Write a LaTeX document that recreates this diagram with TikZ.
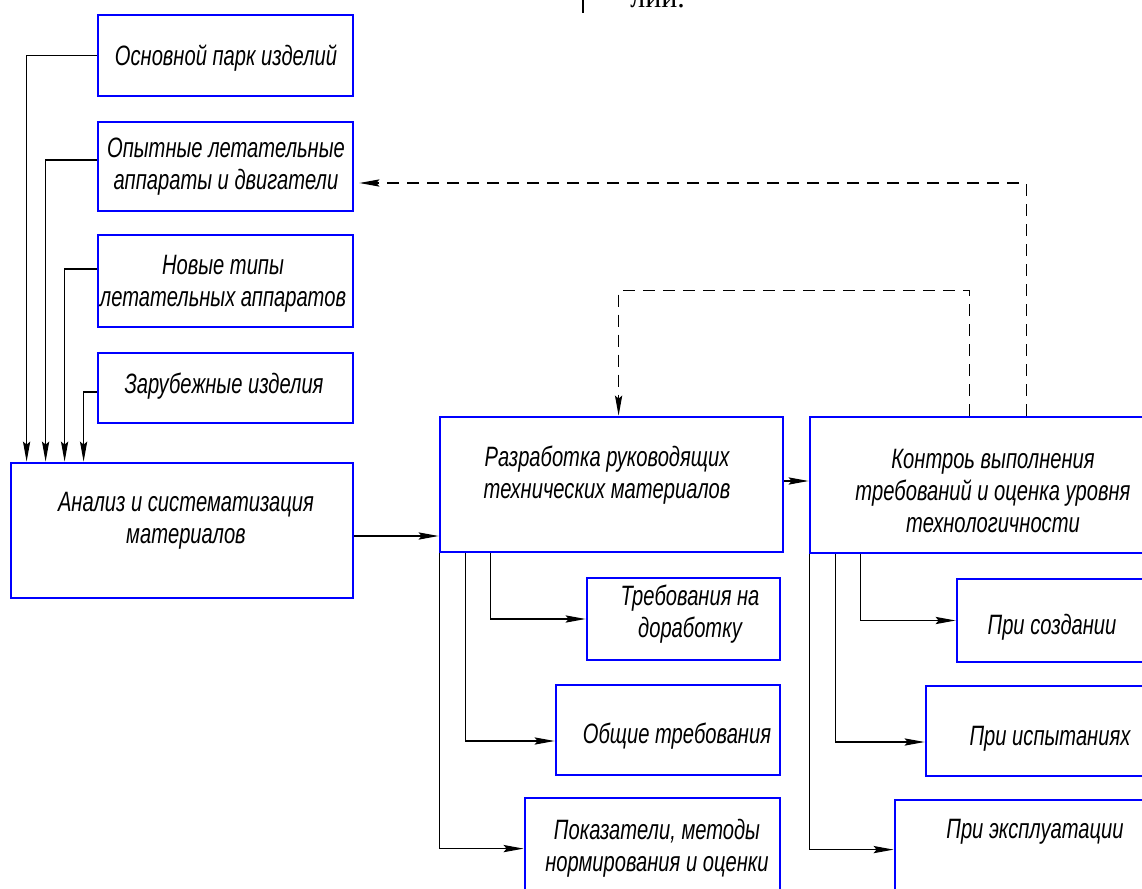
\documentclass[tikz,border=0pt]{standalone}
\usepackage{fontspec}
\newfontfamily\gost[FakeStretch=0.72]{Liberation Sans}
\newfontfamily\serifrag{Liberation Serif}
\usetikzlibrary{arrows.meta,fit}
\definecolor{boxblue}{RGB}{0,0,255}
\tikzset{
  box/.style={draw=boxblue, line width=1.4pt, inner sep=0pt, rectangle},
  txt/.style={font=\gost\itshape\fontsize{14}{16}\selectfont, align=center, inner sep=0pt, text=black},
  arr/.style={draw=black, line width=0.55pt, -{Stealth[length=10pt,width=3.6pt,inset=1.5pt]}},
  dsh/.style={draw=black!75, line width=0.55pt, dash pattern=on 6pt off 4pt},
}
\begin{document}
\begin{tikzpicture}[x=0.5pt,y=-0.5pt]
\useasboundingbox (0,0) rectangle (1142,889);
\clip (0,0) rectangle (1142,889);

% fragment of page text at the top (cut off, as in the reference)
\draw[line width=1pt] (583,0) -- (583,13);
\node[anchor=base west, inner sep=0pt, font=\serifrag\fontsize{15}{15}\selectfont] (frag) at (630,7) {лии.};

% boxes
\node[box, fit={(98,15) (353,96)}] (osn) {};
\node[box, fit={(98,122) (353,211)}] (opyt) {};
\node[box, fit={(98,235) (353,327)}] (novye) {};
\node[box, fit={(98,353) (353,423)}] (zarub) {};
\node[box, fit={(11,463) (353,598)}] (an) {};
\node[box, fit={(440,417) (783,552)}] (razr) {};
\node[box, fit={(810,417) (1160,553)}] (kontr) {};
\node[box, fit={(587,578) (780,660)}] (treb) {};
\node[box, fit={(556,685) (780,775)}] (obsh) {};
\node[box, fit={(525,798) (780,910)}] (pokaz) {};
\node[box, fit={(957,579) (1160,662)}] (sozd) {};
\node[box, fit={(926,686) (1160,776)}] (ispyt) {};
\node[box, fit={(895,800) (1160,910)}] (ekspl) {};

% texts
\node[txt] (t-osn) at (226,58) {Основной парк изделий};
\node[txt] (t-opyt) at (226,166.5) {Опытные летательные\\аппараты и двигатели};
\node[txt] (t-novye) at (223,284) {Новые типы\\летательных аппаратов};
\node[txt] (t-zarub) at (224,386) {Зарубежные изделия};
\node[txt] (t-an) at (186,521) {Анализ и систематизация\\материалов};
\node[txt] (t-razr) at (607,475.5) {Разработка руководящих\\технических материалов};
\node[txt] (t-kontr) at (993,490.5) {Контроь выполнения\\требований и оценка уровня\\технологичности};
\node[txt] (t-treb) at (690,614.5) {Требования на\\доработку};
\node[txt] (t-obsh) at (677,736) {Общие требования};
\node[txt] (t-pokaz) at (657,848) {Показатели, методы\\нормирования и оценки};
\node[txt] (t-sozd) at (1052,627) {При создании};
\node[txt] (t-ispyt) at (1050,739) {При испытаниях};
\node[txt] (t-ekspl) at (1035,832) {При эксплуатации};

% feeders into the analysis box
\draw[arr] (osn.west) -| ([xshift=8.5pt]an.north west);
\draw[arr] ([yshift=3.25pt]opyt.west) -| ([xshift=18pt]an.north west);
\draw[arr] ([yshift=6pt]novye.west) -| ([xshift=27.5pt]an.north west);
\draw[arr] ([yshift=-2pt]zarub.west) -| ([xshift=37pt]an.north west);

% main flow
\coordinate (ao) at ([yshift=-2.75pt]an.east);
\draw[arr] (ao) -- (ao -| razr.west);
\coordinate (ro) at ([yshift=1.75pt]razr.east);
\draw[arr] (ro) -- (ro -| kontr.west);

% dashed feedback
\draw[dsh, arr, dash pattern=on 6pt off 4pt] ([xshift=80.5pt]kontr.north west) -- ++(0,-125) -| ([xshift=90pt]razr.north west);
\draw[dsh, arr, dash pattern=on 6pt off 4pt] ([xshift=109pt]kontr.north west) |- ([yshift=-8.25pt,xshift=2.5pt]opyt.east);

% branches of the development box
\draw[arr] ([xshift=26pt]razr.south west) |- (treb.west);
\draw[arr] ([xshift=13.5pt]razr.south west) |- ([yshift=-5.5pt]obsh.west);
\draw[arr] ([xshift=0.5pt]razr.south west) |- ([yshift=-26pt]pokaz.north west);

% branches of the control box
\draw[arr] ([xshift=26pt]kontr.south west) |- (sozd.west);
\draw[arr] ([xshift=13.5pt]kontr.south west) |- ([yshift=-5.5pt]ispyt.west);
\draw[arr] ([xshift=0.5pt]kontr.south west) |- ([yshift=-25.5pt]ekspl.north west);
\end{tikzpicture}
\end{document}
